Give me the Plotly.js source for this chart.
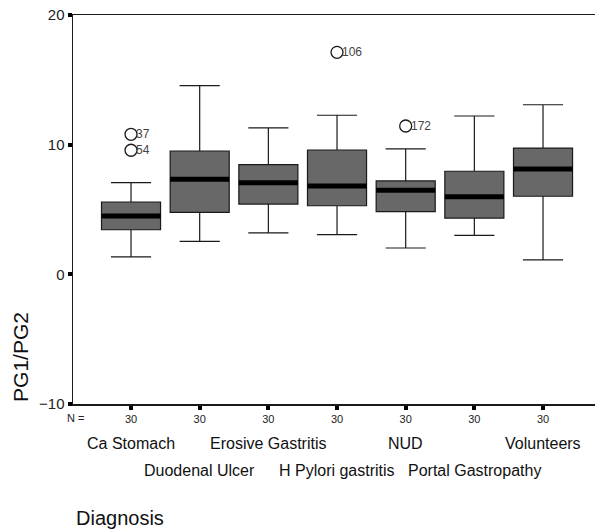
<!DOCTYPE html>
<html>
<head>
<meta charset="utf-8">
<script src="https://cdn.plot.ly/plotly-3.0.1.min.js"></script>
<style>html,body{margin:0;padding:0;background:#fff}#chart{width:595px;height:531px}</style>
</head>
<body>
<div id="chart"></div>
<script>
const categories = ["Ca Stomach","Duodenal Ulcer","Erosive Gastritis","H Pylori gastritis","NUD","Portal Gastropathy","Volunteers"];
const nCounts = [30,30,30,30,30,30,30];
const lowerWhisker = [1.34, 2.54, 3.19, 3.06, 2.03, 3.01, 1.11];
const q1 = [3.44, 4.78, 5.42, 5.29, 4.83, 4.34, 6.02];
const median = [4.50, 7.33, 7.07, 6.81, 6.48, 5.99, 8.12];
const q3 = [5.58, 9.51, 8.46, 9.59, 7.20, 7.95, 9.74];
const upperWhisker = [7.07, 14.55, 11.29, 12.27, 9.67, 12.21, 13.08];
const outlierCat = [0, 0, 3, 4];
const outlierVal = [10.80, 9.57, 17.12, 11.44];
const outlierLabel = ["37", "54", "106", "172"];

const pos = categories.map((c, i) => i);
const boxW = 0.86;
const font = "Arial, 'Liberation Sans', sans-serif";

const boxTrace = {
  type: "box",
  x: pos,
  q1: q1, median: median, q3: q3,
  lowerfence: lowerWhisker, upperfence: upperWhisker,
  width: boxW,
  whiskerwidth: 0.68,
  fillcolor: "#686868",
  line: {color: "#1a1a1a", width: 1.2},
  boxpoints: false,
  hoverinfo: "skip",
  showlegend: false
};

const outTrace = {
  type: "scatter", mode: "markers",
  x: outlierCat, y: outlierVal,
  marker: {symbol: "circle-open", size: 12, color: "#1a1a1a", line: {width: 1.3, color: "#1a1a1a"}},
  showlegend: false, hoverinfo: "skip"
};

const shapes = median.map((m, i) => ({
  type: "line", xref: "x", yref: "y",
  x0: pos[i] - boxW / 2, x1: pos[i] + boxW / 2, y0: m, y1: m,
  line: {color: "#000", width: 5}
}));

const annotations = [];
outlierLabel.forEach((t, i) => {
  annotations.push({
    xref: "x", yref: "y", x: outlierCat[i], y: outlierVal[i], text: t,
    showarrow: false, xanchor: "left", yanchor: "middle", xshift: 3,
    font: {family: font, size: 12, color: "#444"}
  });
});
categories.forEach((c, i) => {
  annotations.push({
    xref: "x", yref: "paper", x: pos[i], y: 0, text: c,
    showarrow: false, xanchor: "center", yanchor: "middle",
    yshift: (i % 2 === 0) ? -39 : -66,
    font: {family: font, size: 16, color: "#111"}
  });
});
annotations.push({
  xref: "paper", yref: "paper", x: 0, y: 0, text: "N =",
  showarrow: false, xanchor: "center", yanchor: "middle", xshift: 2, yshift: -14,
  font: {family: font, size: 11, color: "#222"}
});
annotations.push({
  xref: "paper", yref: "paper", x: 0, y: 0, text: "Diagnosis",
  showarrow: false, xanchor: "left", yanchor: "middle", xshift: 1, yshift: -114,
  font: {family: font, size: 20, color: "#111"}
});
annotations.push({
  xref: "paper", yref: "paper", x: 0, y: 0.121, text: "PG1/PG2",
  showarrow: false, textangle: -90, xanchor: "center", yanchor: "middle", xshift: -52,
  font: {family: font, size: 21, color: "#111"}
});

const layout = {
  width: 595, height: 531,
  margin: {l: 73, r: 0, t: 15, b: 127},
  paper_bgcolor: "#fff", plot_bgcolor: "#fff",
  font: {family: font},
  xaxis: {
    range: [-0.845, 6.757], tickvals: pos, ticktext: nCounts.map(String),
    showgrid: false, zeroline: false,
    showline: true, linecolor: "#1a1a1a", linewidth: 1.5, mirror: true,
    ticks: "outside", ticklen: 4, tickwidth: 4, tickcolor: "#000",
    tickfont: {family: font, size: 11, color: "#222"}
  },
  yaxis: {
    range: [-10, 20], tickvals: [-10, 0, 10, 20],
    showgrid: false, zeroline: false,
    showline: true, linecolor: "#1a1a1a", linewidth: 1.5,
    ticks: "outside", ticklen: 4, tickwidth: 4, tickcolor: "#000",
    tickfont: {family: font, size: 15, color: "#222"}
  },
  shapes: shapes,
  annotations: annotations,
  showlegend: false
};

Plotly.newPlot("chart", [boxTrace, outTrace], layout, {displayModeBar: false, staticPlot: true});
</script>
</body>
</html>
